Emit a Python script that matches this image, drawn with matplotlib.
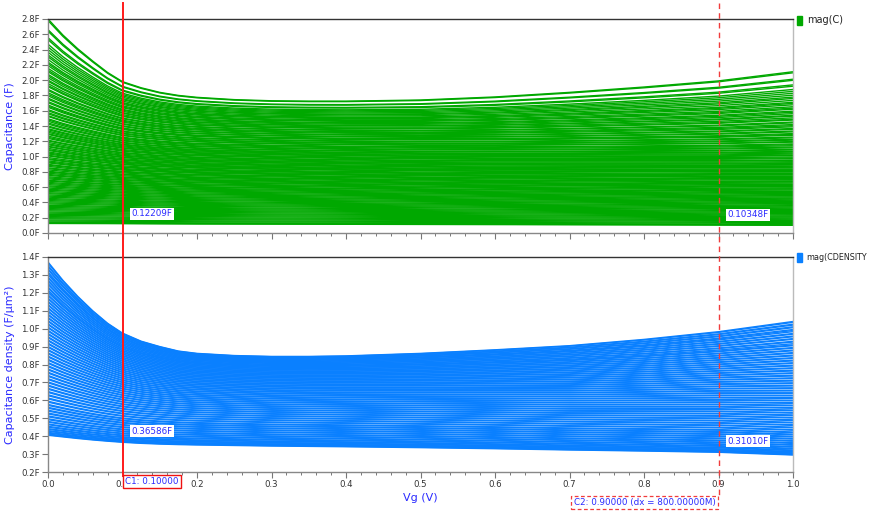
import numpy as np
import matplotlib
matplotlib.use("Agg")
import matplotlib.pyplot as plt
from matplotlib.transforms import blended_transform_factory
from matplotlib.ticker import MultipleLocator, FuncFormatter
from matplotlib.patches import Rectangle

# Gate voltage sweep points (V)
vg = [0.0, 0.02, 0.04, 0.06, 0.08, 0.10, 0.125, 0.15, 0.175, 0.20, 0.25,
      0.30, 0.35, 0.40, 0.50, 0.60, 0.70, 0.80, 0.90, 1.00]

# Capacitance envelope (F): highest and lowest curve of the sweep family
cap_top = [2.80, 2.59, 2.41, 2.25, 2.10, 1.98, 1.90, 1.84, 1.80, 1.775, 1.745,
           1.73, 1.725, 1.725, 1.74, 1.78, 1.84, 1.91, 1.99, 2.11]
cap_bot = [0.125, 0.1245, 0.124, 0.1235, 0.123, 0.12209, 0.121, 0.120, 0.119,
           0.118, 0.117, 0.116, 0.115, 0.114, 0.112, 0.110, 0.108, 0.106,
           0.10348, 0.101]

# Capacitance density envelope (F/um^2)
dens_top = [1.372, 1.27, 1.18, 1.10, 1.03, 0.975, 0.93, 0.90, 0.875, 0.862,
            0.85, 0.845, 0.845, 0.848, 0.862, 0.882, 0.905, 0.94, 0.983, 1.04]
dens_bot = [0.405, 0.396, 0.387, 0.379, 0.372, 0.36586, 0.360, 0.356, 0.353,
            0.351, 0.348, 0.345, 0.343, 0.341, 0.336, 0.330, 0.323, 0.317,
            0.3101, 0.295]

# Value of each swept curve at Vg = 0 (F)
cap_start = [2.80, 2.78, 2.66, 2.64, 2.555, 2.53, 2.47, 2.435, 2.40, 2.365,
             2.33, 2.305, 2.27, 2.235, 2.215, 2.19, 2.155, 2.13, 2.11, 2.075,
             2.055, 2.03, 2.00, 1.985, 1.955, 1.93, 1.915, 1.88, 1.865, 1.835,
             1.815, 1.795, 1.765, 1.75, 1.72, 1.705, 1.675, 1.66, 1.645, 1.615,
             1.60, 1.575, 1.56, 1.535, 1.525, 1.495, 1.48, 1.462, 1.44, 1.425,
             1.40, 1.388, 1.365, 1.352, 1.334, 1.318, 1.30, 1.29, 1.268, 1.252,
             1.238, 1.215, 1.205, 1.186, 1.168, 1.155, 1.136, 1.128, 1.108,
             1.092, 1.081, 1.062, 1.048, 1.035, 1.018, 1.009, 0.988, 0.972,
             0.962, 0.944, 0.93, 0.918, 0.898, 0.887, 0.872, 0.853, 0.842,
             0.826, 0.808, 0.797, 0.782, 0.766, 0.754, 0.736, 0.722, 0.708,
             0.69, 0.679, 0.662, 0.648, 0.633, 0.617, 0.604, 0.588, 0.572,
             0.559, 0.543, 0.527, 0.514, 0.498, 0.483, 0.469, 0.452, 0.438,
             0.424, 0.409, 0.394, 0.38, 0.363, 0.349, 0.334, 0.319, 0.305,
             0.29, 0.274, 0.26, 0.245, 0.23, 0.214, 0.2, 0.186, 0.17, 0.156,
             0.141, 0.13, 0.125]

# Value of each swept density curve at Vg = 0 (F/um^2)
dens_start = [1.372, 1.366, 1.353, 1.347, 1.335, 1.329, 1.316, 1.309, 1.301,
              1.288, 1.283, 1.27, 1.265, 1.252, 1.247, 1.233, 1.228, 1.216,
              1.207, 1.202, 1.189, 1.184, 1.171, 1.166, 1.153, 1.148, 1.135,
              1.13, 1.117, 1.112, 1.099, 1.094, 1.081, 1.076, 1.063, 1.058,
              1.045, 1.04, 1.027, 1.022, 1.009, 1.004, 0.991, 0.986, 0.973,
              0.968, 0.955, 0.95, 0.937, 0.932, 0.919, 0.914, 0.901, 0.896,
              0.883, 0.878, 0.865, 0.86, 0.847, 0.842, 0.829, 0.824, 0.811,
              0.806, 0.793, 0.788, 0.775, 0.77, 0.757, 0.752, 0.739, 0.734,
              0.721, 0.716, 0.703, 0.698, 0.685, 0.68, 0.667, 0.662, 0.649,
              0.644, 0.631, 0.626, 0.613, 0.608, 0.595, 0.59, 0.577, 0.572,
              0.561, 0.556, 0.545, 0.54, 0.529, 0.524, 0.513, 0.508, 0.497,
              0.492, 0.482, 0.478, 0.468, 0.464, 0.455, 0.45, 0.442, 0.438,
              0.431, 0.427, 0.421, 0.417, 0.412, 0.408, 0.405]

cursor1 = 0.10
cursor2 = 0.90

GREEN = "#00a800"
BLUE = "#0a80ff"
LABEL_BLUE = "#2a2aff"

plt.rcParams["font.family"] = ["DejaVu Sans"]

W, H = 871, 513
fig = plt.figure(figsize=(W / 100, H / 100), dpi=100)


def px_axes(x0, y0, x1, y1):
    return fig.add_axes([x0 / W, 1 - y1 / H, (x1 - x0) / W, (y1 - y0) / H])


ax1 = px_axes(48, 19, 793, 233)
ax2 = px_axes(48, 257, 793, 472)


def family(ax, top, bot, starts, color):
    top = np.asarray(top)
    bot = np.asarray(bot)
    t0, b0 = top[0], bot[0]
    for s in starts:
        w = (s - b0) / (t0 - b0)
        curve = s * ((1 - w) * bot / b0 + w * top / t0)
        ax.plot(vg, curve, color=color, lw=1.0, solid_capstyle="butt")


family(ax1, cap_top, cap_bot, cap_start, GREEN)
family(ax2, dens_top, dens_bot, dens_start, BLUE)


def style(ax, ylim, step, show_x):
    ax.set_xlim(0, 1)
    ax.set_ylim(*ylim)
    ax.yaxis.set_major_locator(MultipleLocator(step))
    ax.yaxis.set_major_formatter(FuncFormatter(lambda v, p: f"{v:.1f}F"))
    ax.xaxis.set_major_locator(MultipleLocator(0.1))
    ax.xaxis.set_minor_locator(MultipleLocator(0.02))
    ax.xaxis.set_major_formatter(FuncFormatter(lambda v, p: f"{v:.1f}"))
    ax.tick_params(axis="both", which="major", labelsize=6.2, length=4,
                   width=0.8, color="#777777", labelcolor="#333333", pad=2)
    ax.tick_params(axis="x", which="minor", length=2.5, width=0.7,
                   color="#777777")
    if not show_x:
        ax.tick_params(axis="x", labelbottom=False)
    ax.spines["top"].set_color("#333333")
    ax.spines["left"].set_color("#888888")
    ax.spines["bottom"].set_color("#888888")
    ax.spines["right"].set_color("#bbbbbb")
    for sp in ax.spines.values():
        sp.set_linewidth(1.0)


style(ax1, (0, 2.8), 0.2, False)
style(ax2, (0.2, 1.4), 0.1, True)

ax1.set_ylabel("Capacitance (F)", color=LABEL_BLUE, fontsize=8, labelpad=4)
ax2.set_ylabel("Capacitance density (F/µm²)", color=LABEL_BLUE, fontsize=8,
               labelpad=4)
ax2.set_xlabel("Vg (V)", color=LABEL_BLUE, fontsize=8, labelpad=3)

# Cursor lines spanning both panels
tr = blended_transform_factory(ax2.transData, fig.transFigure)
fig.add_artist(plt.Line2D([cursor1, cursor1], [1 - 3 / H, 1 - 476 / H],
                          transform=tr, color="#ff1a1a", lw=1.4, zorder=10))
fig.add_artist(plt.Line2D([cursor2, cursor2], [1 - 3 / H, 1 - 496 / H],
                          transform=tr, color="#f03c3c", lw=1.0,
                          ls=(0, (4, 3)), zorder=10))

# Cursor readouts
vals = {
    (ax1, cursor1): cap_bot[vg.index(cursor1)],
    (ax1, cursor2): cap_bot[vg.index(cursor2)],
    (ax2, cursor1): dens_bot[vg.index(cursor1)],
    (ax2, cursor2): dens_bot[vg.index(cursor2)],
}
ypos = {(ax1, cursor1): 214, (ax1, cursor2): 215,
        (ax2, cursor1): 431, (ax2, cursor2): 441}
for (ax, c), v in vals.items():
    fig.text(c + 0.012, 1 - ypos[(ax, c)] / H, f"{v:.5f}F",
             transform=blended_transform_factory(ax.transData, fig.transFigure),
             fontsize=6.3, color=LABEL_BLUE, va="center", ha="left",
             zorder=12,
             bbox=dict(boxstyle="square,pad=0.2", fc="white", ec="none"))

fig.text(cursor1 + 0.004, 1 - 481.5 / H, f"C1: {cursor1:.5f}",
         transform=tr, fontsize=6.3, color=LABEL_BLUE, va="center",
         ha="left", zorder=12,
         bbox=dict(boxstyle="square,pad=0.25", fc="white", ec="#ee1111",
                   lw=1.0))
fig.text(cursor2 - 0.004, 1 - 502.5 / H,
         f"C2: {cursor2:.5f} (dx = {(cursor2 - cursor1) * 1000:.5f}M)",
         transform=tr, fontsize=6.3, color=LABEL_BLUE, va="center",
         ha="right", zorder=12,
         bbox=dict(boxstyle="square,pad=0.25", fc="white", ec="#f03c3c",
                   lw=0.9, ls=(0, (3, 2))))

# Legend swatches
fig.add_artist(Rectangle((797 / W, 1 - 25 / H), 5 / W, 9 / H,
                         transform=fig.transFigure, color=GREEN))
fig.text(807 / W, 1 - 20 / H, "mag(C)", fontsize=7, color="#222222",
         va="center", ha="left")
fig.add_artist(Rectangle((797 / W, 1 - 262 / H), 5 / W, 9 / H,
                         transform=fig.transFigure, color=BLUE))
fig.text(806 / W, 1 - 258 / H, "mag(CDENSITY", fontsize=5.8,
         color="#222222", va="center", ha="left")

fig.savefig("out.png", dpi=100)
